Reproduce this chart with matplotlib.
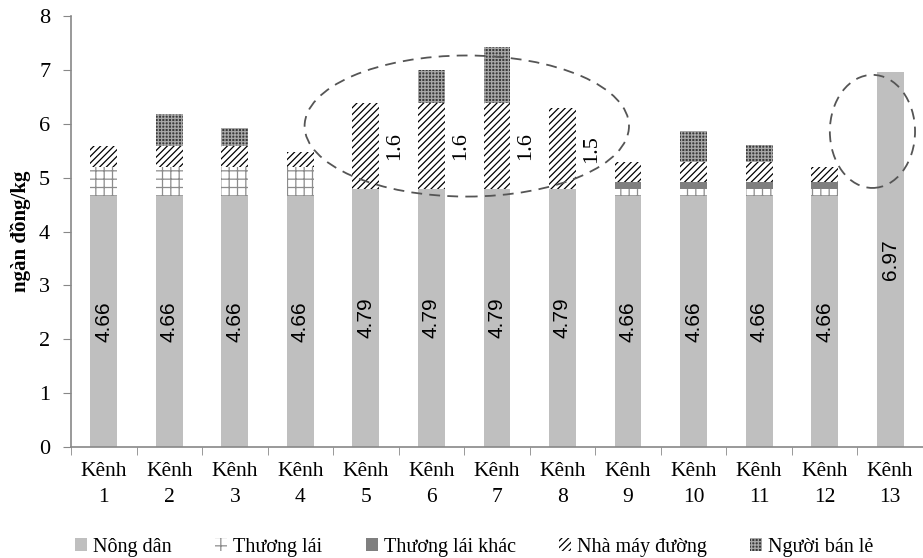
import numpy as np
import matplotlib
matplotlib.use("Agg")
import matplotlib.pyplot as plt
from matplotlib.patches import Ellipse

# values (ngàn đồng/kg)
categories = ["Kênh\n%d" % i for i in range(1, 14)]
nong_dan = [4.66, 4.66, 4.66, 4.66, 4.79, 4.79, 4.79, 4.79, 4.66, 4.66, 4.66, 4.66, 6.97]
thuong_lai = [0.54, 0.54, 0.54, 0.54, 0, 0, 0, 0, 0.13, 0.13, 0.13, 0.13, 0]
thuong_lai_khac = [0, 0, 0, 0, 0, 0, 0, 0, 0.13, 0.13, 0.13, 0.13, 0]
nha_may_duong = [0.38, 0.38, 0.38, 0.27, 1.6, 1.6, 1.6, 1.5, 0.37, 0.37, 0.37, 0.27, 0]
nguoi_ban_le = [0, 0.6, 0.35, 0, 0, 0.61, 1.04, 0, 0, 0.57, 0.31, 0, 0]
series_names = ["Nông dân", "Thương lái", "Thương lái khác", "Nhà máy đường", "Người bán lẻ"]

serif = "Liberation Serif"
plt.rcParams["font.family"] = serif
plt.rcParams["hatch.linewidth"] = 0.9

fig = plt.figure(figsize=(9.23, 5.58), dpi=100)
ax = fig.add_axes([0.0769, 0.199, 0.923, 0.772])

x = np.arange(len(categories))
w = 0.41
styles = [
    dict(color="#bfbfbf"),
    dict(facecolor="white", edgecolor="#8c8c8c", hatch="++"),
    dict(color="#7f7f7f"),
    dict(facecolor="white", edgecolor="black", hatch="/////"),
    dict(facecolor="#3a3a3a", edgecolor="#a8a8a8", hatch="+++++"),
]
bottom = np.zeros(len(x))
handles = []
for vals, st, name in zip([nong_dan, thuong_lai, thuong_lai_khac, nha_may_duong, nguoi_ban_le],
                          styles, series_names):
    b = ax.bar(x, vals, w, bottom=bottom, linewidth=0, label=name, **st)
    handles.append(b)
    bottom = bottom + np.array(vals)

# value labels
for i, v in enumerate(nong_dan):
    ax.text(x[i], v / 2, "%.2f" % v, rotation=90, ha="center", va="center",
            fontsize=15, family="Liberation Sans")
for i in [4, 5, 6, 7]:
    base = nong_dan[i]
    ax.text(x[i] + 0.44, base + nha_may_duong[i] / 2, "%.1f" % nha_may_duong[i],
            rotation=90, ha="center", va="center", fontsize=16)

# dashed ellipses
ax.add_patch(Ellipse((5.54, 5.96), 4.95, 2.62, fill=False, ls=(0, (6, 4)),
                     ec="#555555", lw=1.3, clip_on=False))
ax.add_patch(Ellipse((11.73, 5.86), 1.3, 2.1, fill=False, ls=(0, (6, 4)),
                     ec="#555555", lw=1.3, clip_on=False))

ax.set_xlim(-0.5, 12.5)
ax.set_ylim(0, 8)
ax.set_yticks(range(9))
ax.set_xticks(x)
ax.set_xticklabels(categories, fontsize=15.5, linespacing=1.45)
ax.set_xticks(np.arange(-0.5, 13, 1), minor=True)
ax.tick_params(axis="x", which="major", length=0, pad=11)
ax.tick_params(axis="x", which="minor", length=6, color="#888888")
ax.tick_params(axis="y", length=6, color="#888888", labelsize=16, pad=9)
for s in ["top", "right"]:
    ax.spines[s].set_visible(False)
for s in ["left", "bottom"]:
    ax.spines[s].set_color("#888888")
    ax.spines[s].set_linewidth(1.2)
ax.set_ylabel("ngàn đồng/kg", fontsize=15, fontweight="bold", labelpad=6)

fig.legend(handles=handles, loc="lower center", bbox_to_anchor=(0.514, -0.03), ncol=5,
           frameon=False, fontsize=14.5, handlelength=0.6, handleheight=0.6,
           handletextpad=0.3, columnspacing=2.15)

fig.savefig("out.png", dpi=100)
